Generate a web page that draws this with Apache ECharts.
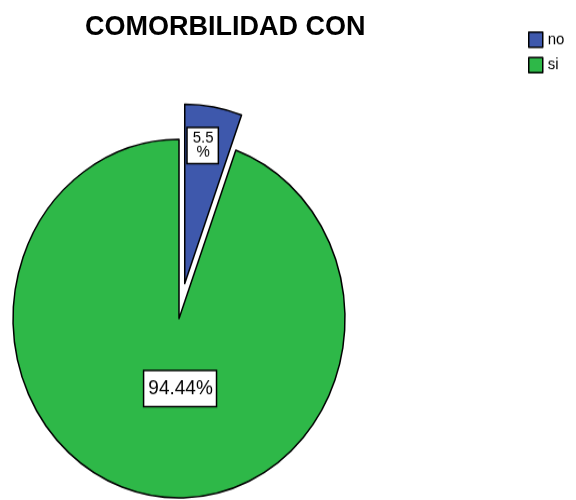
<!DOCTYPE html>
<html><head><meta charset="utf-8">
<script src="https://cdn.jsdelivr.net/npm/echarts@6/dist/echarts.min.js"></script>
<style>
html,body{margin:0;padding:0;background:#fff;width:576px;height:500px;overflow:hidden}
#pie{position:absolute;left:0;top:0;width:576px;height:463px;transform:scaleY(1.08);transform-origin:0 0}
#ttl{position:absolute;left:0;top:0;width:576px;height:60px;pointer-events:none}
</style></head><body>
<div id="pie"></div><div id="ttl"></div>
<script>
const titleText = 'COMORBILIDAD CON';
const categories = ['no', 'si'];
const percentValues = [5.56, 94.44];
const labelTexts = ['5.5\n%', '94.44%'];
const sliceColors = ['#3E58AC', '#2EB848'];
const labelShift = [[3, -43], [16, -20]];
const labelFont = [{fontSize: 15, lineHeight: 13, padding: [3, 4, 3, 5]}, {fontSize: 19, lineHeight: 20, padding: [6, 3, 6, 4]}];

const FONT = '"Liberation Sans", Arial, sans-serif';

const pieData = categories.map((name, i) => ({
  name: name,
  value: percentValues[i],
  selected: i === 0,
  itemStyle: {color: sliceColors[i]},
  label: Object.assign({formatter: labelTexts[i]}, labelFont[i])
}));

const pieChart = echarts.init(document.getElementById('pie'), null, {renderer: 'canvas'});
pieChart.setOption({
  animation: false,
  legend: {
    orient: 'vertical',
    left: 523,
    top: 24,
    itemWidth: 14,
    itemHeight: 14,
    itemGap: 8,
    icon: 'rect',
    selectedMode: false,
    data: categories,
    itemStyle: {borderColor: '#000', borderWidth: 1.5},
    textStyle: {fontFamily: FONT, fontSize: 15, color: '#000', padding: [0, 0, 0, 0]}
  },
  series: [{
    type: 'pie',
    center: [179, 295],
    radius: [0, 166],
    startAngle: 90,
    clockwise: true,
    selectedMode: 'single',
    selectedOffset: 33,
    avoidLabelOverlap: false,
    itemStyle: {borderColor: '#000', borderWidth: 1.5},
    emphasis: {disabled: true},
    label: {
      show: true,
      position: 'inside',
      rotate: 0,
      fontFamily: FONT,
      color: '#000',
      backgroundColor: '#fff',
      borderColor: '#000',
      borderWidth: 1.5,
      align: 'center'
    },
    labelLine: {show: false},
    labelLayout: function (p) {
      const s = labelShift[p.dataIndex];
      return {dx: s[0], dy: s[1]};
    },
    data: pieData
  }]
});

const titleChart = echarts.init(document.getElementById('ttl'), null, {renderer: 'canvas'});
titleChart.setOption({
  animation: false,
  title: {
    text: titleText,
    left: 80,
    top: 9,
    textStyle: {fontFamily: FONT, fontSize: 27, fontWeight: 'bold', color: '#000'}
  }
});
</script>
</body></html>
